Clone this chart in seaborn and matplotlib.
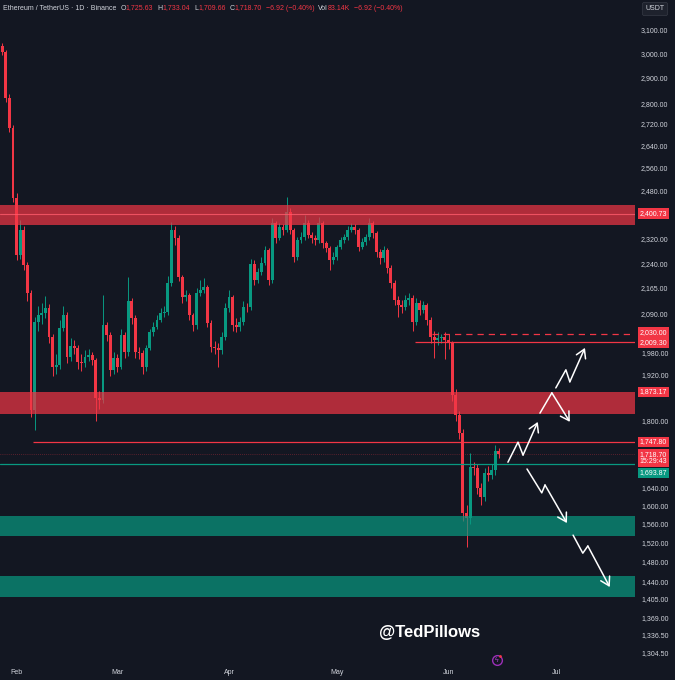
import numpy as np
import pandas as pd
import matplotlib
matplotlib.use("Agg")
import matplotlib.pyplot as plt
import matplotlib.dates as mdates
from matplotlib.ticker import NullLocator, NullFormatter
import seaborn as sns

# --- colours (TradingView dark) ---
BG = "#131722"
UP = "#089981"
DOWN = "#F23645"
TXT = "#d1d4dc"

# --- daily ETH/USDT candles, 28 Jan -> 15 Jun ---
first_open = 3032
closes = [
    3007, 2820, 2705, 2454, 2267, 2347, 2235, 2150, 1827, 2065,
    2085, 2091, 2106, 2022, 1940, 1945, 2048, 2085, 1967, 1997,
    1992, 1953, 1950, 1967, 1972, 1959, 1858, 1853, 2056, 2028,
    1932, 1964, 1940, 2028, 1981, 2126, 2077, 1981, 1978, 1940,
    1992, 2036, 2051, 2071, 2091, 2094, 2180, 2347, 2321, 2198,
    2138, 2144, 2085, 2056, 2150, 2159, 2168, 2062, 1995, 1992,
    1986, 2022, 2106, 2138, 2056, 2051, 2065, 2109, 2107, 2240,
    2189, 2213, 2243, 2283, 2189, 2370, 2321, 2357, 2347, 2407,
    2347, 2260, 2314, 2324, 2370, 2331, 2321, 2314, 2370, 2304,
    2289, 2251, 2260, 2292, 2314, 2324, 2347, 2357, 2347, 2292,
    2307, 2324, 2370, 2337, 2276, 2257, 2283, 2226, 2180, 2129,
    2114, 2109, 2129, 2135, 2065, 2120, 2100, 2114, 2071, 2022,
    2014, 2019, 2022, 2014, 2008, 1866, 1814, 1769, 1583, 1572,
    1688, 1685, 1640, 1619, 1674, 1669, 1680, 1725.63, 1718.70,
]
highs = [
    3045, 3015, 2835, 2715, 2470, 2380, 2360, 2245, 2160, 2080,
    2110, 2120, 2140, 2118, 2030, 1975, 2070, 2110, 2095, 2020,
    2015, 2000, 1975, 1985, 1990, 1980, 1965, 1875, 2144, 2065,
    2035, 1980, 1975, 2045, 2035, 2198, 2135, 2085, 1995, 1985,
    2000, 2045, 2065, 2085, 2105, 2110, 2200, 2373, 2360, 2330,
    2205, 2160, 2150, 2090, 2165, 2190, 2195, 2175, 2070, 2010,
    2005, 2035, 2120, 2160, 2145, 2075, 2080, 2125, 2120, 2255,
    2250, 2225, 2260, 2295, 2290, 2385, 2375, 2370, 2365, 2457,
    2420, 2355, 2325, 2340, 2395, 2380, 2340, 2330, 2390, 2375,
    2310, 2295, 2275, 2300, 2325, 2335, 2360, 2370, 2365, 2355,
    2320, 2335, 2385, 2375, 2345, 2285, 2295, 2290, 2235, 2190,
    2140, 2130, 2145, 2150, 2145, 2135, 2130, 2125, 2120, 2080,
    2040, 2035, 2030, 2035, 2030, 2012, 1880, 1825, 1780, 1600,
    1721, 1700, 1695, 1650, 1685, 1690, 1695, 1740, 1733.04,
]
lows = [
    2995, 2805, 2690, 2440, 2250, 2255, 2220, 2126, 1810, 1777,
    2040, 2060, 2075, 2005, 1915, 1920, 1935, 2040, 1950, 1955,
    1975, 1935, 1930, 1940, 1955, 1945, 1800, 1830, 1845, 2010,
    1915, 1920, 1925, 1935, 1965, 1970, 2060, 1965, 1960, 1920,
    1930, 1985, 2025, 2045, 2065, 2080, 2085, 2170, 2300, 2185,
    2120, 2125, 2070, 2040, 2045, 2140, 2150, 2050, 1980, 1975,
    1940, 1975, 2015, 2095, 2040, 2035, 2040, 2055, 2095, 2100,
    2175, 2180, 2205, 2235, 2175, 2180, 2305, 2315, 2330, 2340,
    2335, 2245, 2250, 2305, 2315, 2320, 2305, 2300, 2305, 2290,
    2275, 2220, 2240, 2250, 2285, 2305, 2315, 2340, 2335, 2280,
    2285, 2300, 2315, 2320, 2260, 2240, 2245, 2210, 2165, 2115,
    2080, 2090, 2100, 2115, 2040, 2055, 2085, 2090, 2055, 2005,
    1965, 2000, 2005, 1960, 1990, 1850, 1800, 1755, 1565, 1510,
    1560, 1670, 1625, 1600, 1610, 1655, 1660, 1670, 1709.66,
]

# --- drawn zones / levels ---
red_zones = [(2362, 2430), (1817, 1873.17)]
green_zones = [(1533, 1577), (1408, 1450)]
zone_mid = 2400.73
# (price, start day counted from 1 Feb, style)
levels = [(2030.00, 115.4, "dash"), (2009.30, 110.7, "solid"), (1747.80, 4.6, "solid")]
support_line = 1693.87
last_price = 1718.70

# white zig-zag arrows: day offsets from 1 Feb, prices
arrow_days = [
    [136.5, 139.3, 140.7, 144.8],
    [145.4, 148.7, 153.7],
    [149.8, 152.6, 153.7, 157.9],
    [141.8, 145.9, 146.8, 152.9],
    [154.6, 157.3, 158.7, 164.8],
]
arrow_prices = [
    [1699, 1747, 1716, 1797],
    [1819, 1871, 1797],
    [1884, 1932, 1900, 1992],
    [1683, 1628, 1646, 1561],
    [1535, 1497, 1512, 1428],
]

price_ticks = [3100, 3000, 2900, 2800, 2720, 2640, 2560, 2480, 2320, 2240, 2165,
               2090, 1980, 1920, 1800, 1640, 1600, 1560, 1520, 1480, 1440, 1405,
               1369, 1336.5, 1304.5]
month_starts = ["2023-02-01", "2023-03-01", "2023-04-01", "2023-05-01", "2023-06-01", "2023-07-01"]
month_labels = ["Feb", "Mar", "Apr", "May", "Jun", "Jul"]

header = [
    ("Ethereum / TetherUS · 1D · Binance", TXT), ("O", TXT), ("1,725.63", DOWN),
    ("H", TXT), ("1,733.04", DOWN), ("L", TXT), ("1,709.66", DOWN),
    ("C", TXT), ("1,718.70", DOWN), ("−6.92 (−0.40%)", DOWN),
    ("Vol", TXT), ("83.14K", DOWN), ("−6.92 (−0.40%)", DOWN),
]
header_gap_before = [0, 4, 0, 4, 0, 4, 0, 4, 0, 4, 4, 0, 4]

# --- style ---
sns.set_theme(style="dark", rc={"axes.facecolor": BG, "figure.facecolor": BG,
                                "axes.grid": False})
plt.rcParams["font.family"] = ["Liberation Sans", "DejaVu Sans"]

df = pd.DataFrame({"close": closes, "high": highs, "low": lows})
df["open"] = [first_open] + closes[:-1]
df["date"] = pd.date_range("2023-01-28", periods=len(df), freq="D")
df["x"] = mdates.date2num(df["date"])
df["high"] = df[["high", "open", "close"]].max(axis=1)
df["low"] = df[["low", "open", "close"]].min(axis=1)
up = df["close"] >= df["open"]
colors = np.where(up, UP, DOWN)

feb1 = mdates.date2num(pd.Timestamp("2023-02-01"))
x_left, x_right = feb1 - 4.6, feb1 + 171.8

fig = plt.figure(figsize=(6.75, 6.8), dpi=100)
ax = fig.add_axes([0, 14 / 680, 635 / 675, 666 / 680])
ax.set_facecolor(BG)
ax.set_yscale("log")

# --- candles ---
ax.vlines(df["x"], df["low"], df["high"], colors=colors, lw=0.7, zorder=2)
body_lo = df[["open", "close"]].min(axis=1)
body_h = np.maximum((df["close"] - df["open"]).abs(), 2.0)
ax.bar(df["x"], body_h, bottom=body_lo, width=0.8, color=colors, lw=0, zorder=2)

# --- zones ---
for lo, hi in red_zones:
    ax.axhspan(lo, hi, color=DOWN, alpha=0.7, lw=0, zorder=3)
for lo, hi in green_zones:
    ax.axhspan(lo, hi, color=UP, alpha=0.7, lw=0, zorder=3)
ax.axhline(zone_mid, color="#ff5b6b", lw=0.8, alpha=0.8, zorder=3)

# --- levels ---
for price, start, style in levels:
    ls = (0, (5, 4)) if style == "dash" else "-"
    ax.hlines(price, feb1 + start, x_right, colors=DOWN, lw=0.9, linestyles=ls, zorder=4)
ax.axhline(support_line, color=UP, lw=0.9, zorder=4)
ax.axhline(last_price, color=DOWN, lw=0.5, ls=(0, (1, 2)), alpha=0.6, zorder=4)

# --- arrows ---
for days, prices in zip(arrow_days, arrow_prices):
    xs = [feb1 + d for d in days]
    sns.lineplot(x=xs[:-1], y=prices[:-1], sort=False, estimator=None,
                 color="white", lw=1.1, ax=ax, zorder=5)
    ax.annotate("", xy=(xs[-1], prices[-1]), xytext=(xs[-2], prices[-2]),
                arrowprops=dict(arrowstyle="->,head_length=0.5,head_width=0.3",
                                color="white", lw=1.1, shrinkA=0, shrinkB=0),
                zorder=5)

# --- axes ---
ax.set_xlim(x_left, x_right)
ax.set_ylim(1279.5, 3232)
ax.set_yticks(price_ticks)
ax.set_yticklabels([f"{v:,.2f}" for v in price_ticks])
ax.yaxis.set_minor_locator(NullLocator())
ax.yaxis.set_minor_formatter(NullFormatter())
ax.yaxis.tick_right()
ax.tick_params(axis="y", length=0, pad=4.3, labelsize=5, labelcolor=TXT)
ax.set_xticks(mdates.date2num(pd.to_datetime(month_starts)))
ax.set_xticklabels(month_labels)
ax.tick_params(axis="x", length=0, pad=2.5, labelsize=5, labelcolor=TXT)
ax.grid(False)
for s in ax.spines.values():
    s.set_visible(False)


def price_tag(text, price, color, dy=0.0):
    ax.annotate(text, xy=(1, price), xycoords=("axes fraction", "data"),
                xytext=(3.3, dy), textcoords="offset points", ha="left", va="center",
                fontsize=5, color="white", linespacing=1.05, annotation_clip=False,
                bbox=dict(boxstyle="square,pad=0.25", fc=color, ec="none"), zorder=6)


price_tag("2,400.73", 2400.73, DOWN)
price_tag("2,030.00", 2030.00, DOWN, 1.4)
price_tag("2,009.30", 2009.30, DOWN, -0.6)
price_tag("1,873.17", 1873.17, DOWN)
price_tag("1,747.80", 1747.80, DOWN)
price_tag("1,718.70\n15:29:43", 1718.70, DOWN, -3.0)
price_tag("1,693.87", 1693.87, UP, -6.2)

# --- header line ---
fig.canvas.draw()
renderer = fig.canvas.get_renderer()
xpos = 3.0
for (txt, col), gap in zip(header, header_gap_before):
    xpos += gap
    t = fig.text(xpos / 675, 1 - 8 / 680, txt, color=col, fontsize=5, va="center", ha="left")
    xpos = t.get_window_extent(renderer).x1

fig.text(655 / 675, 1 - 9 / 680, "USDT", ha="center", va="center", fontsize=5, color=TXT,
         bbox=dict(boxstyle="round,pad=0.45,rounding_size=0.3", fc="#1e222d", ec="#363a45", lw=0.5))

# watermark + small icon
fig.text(430 / 675, 1 - 633 / 680, "@TedPillows", ha="center", va="center",
         fontsize=12, fontweight="bold", color="white")
fig.add_artist(plt.Line2D([497 / 675], [1 - 660 / 680], marker="o", ms=7, mfc="none",
                          mec="#9c2fb8", mew=1.0, transform=fig.transFigure))
fig.add_artist(plt.Line2D([500 / 675], [1 - 656 / 680], marker="o", ms=2, mfc=DOWN,
                          mec="none", transform=fig.transFigure))
fig.text(497 / 675, 1 - 660 / 680, "ϟ", ha="center", va="center", fontsize=5, color="#b040d0")

fig.savefig("out.png", dpi=100, facecolor=BG)
